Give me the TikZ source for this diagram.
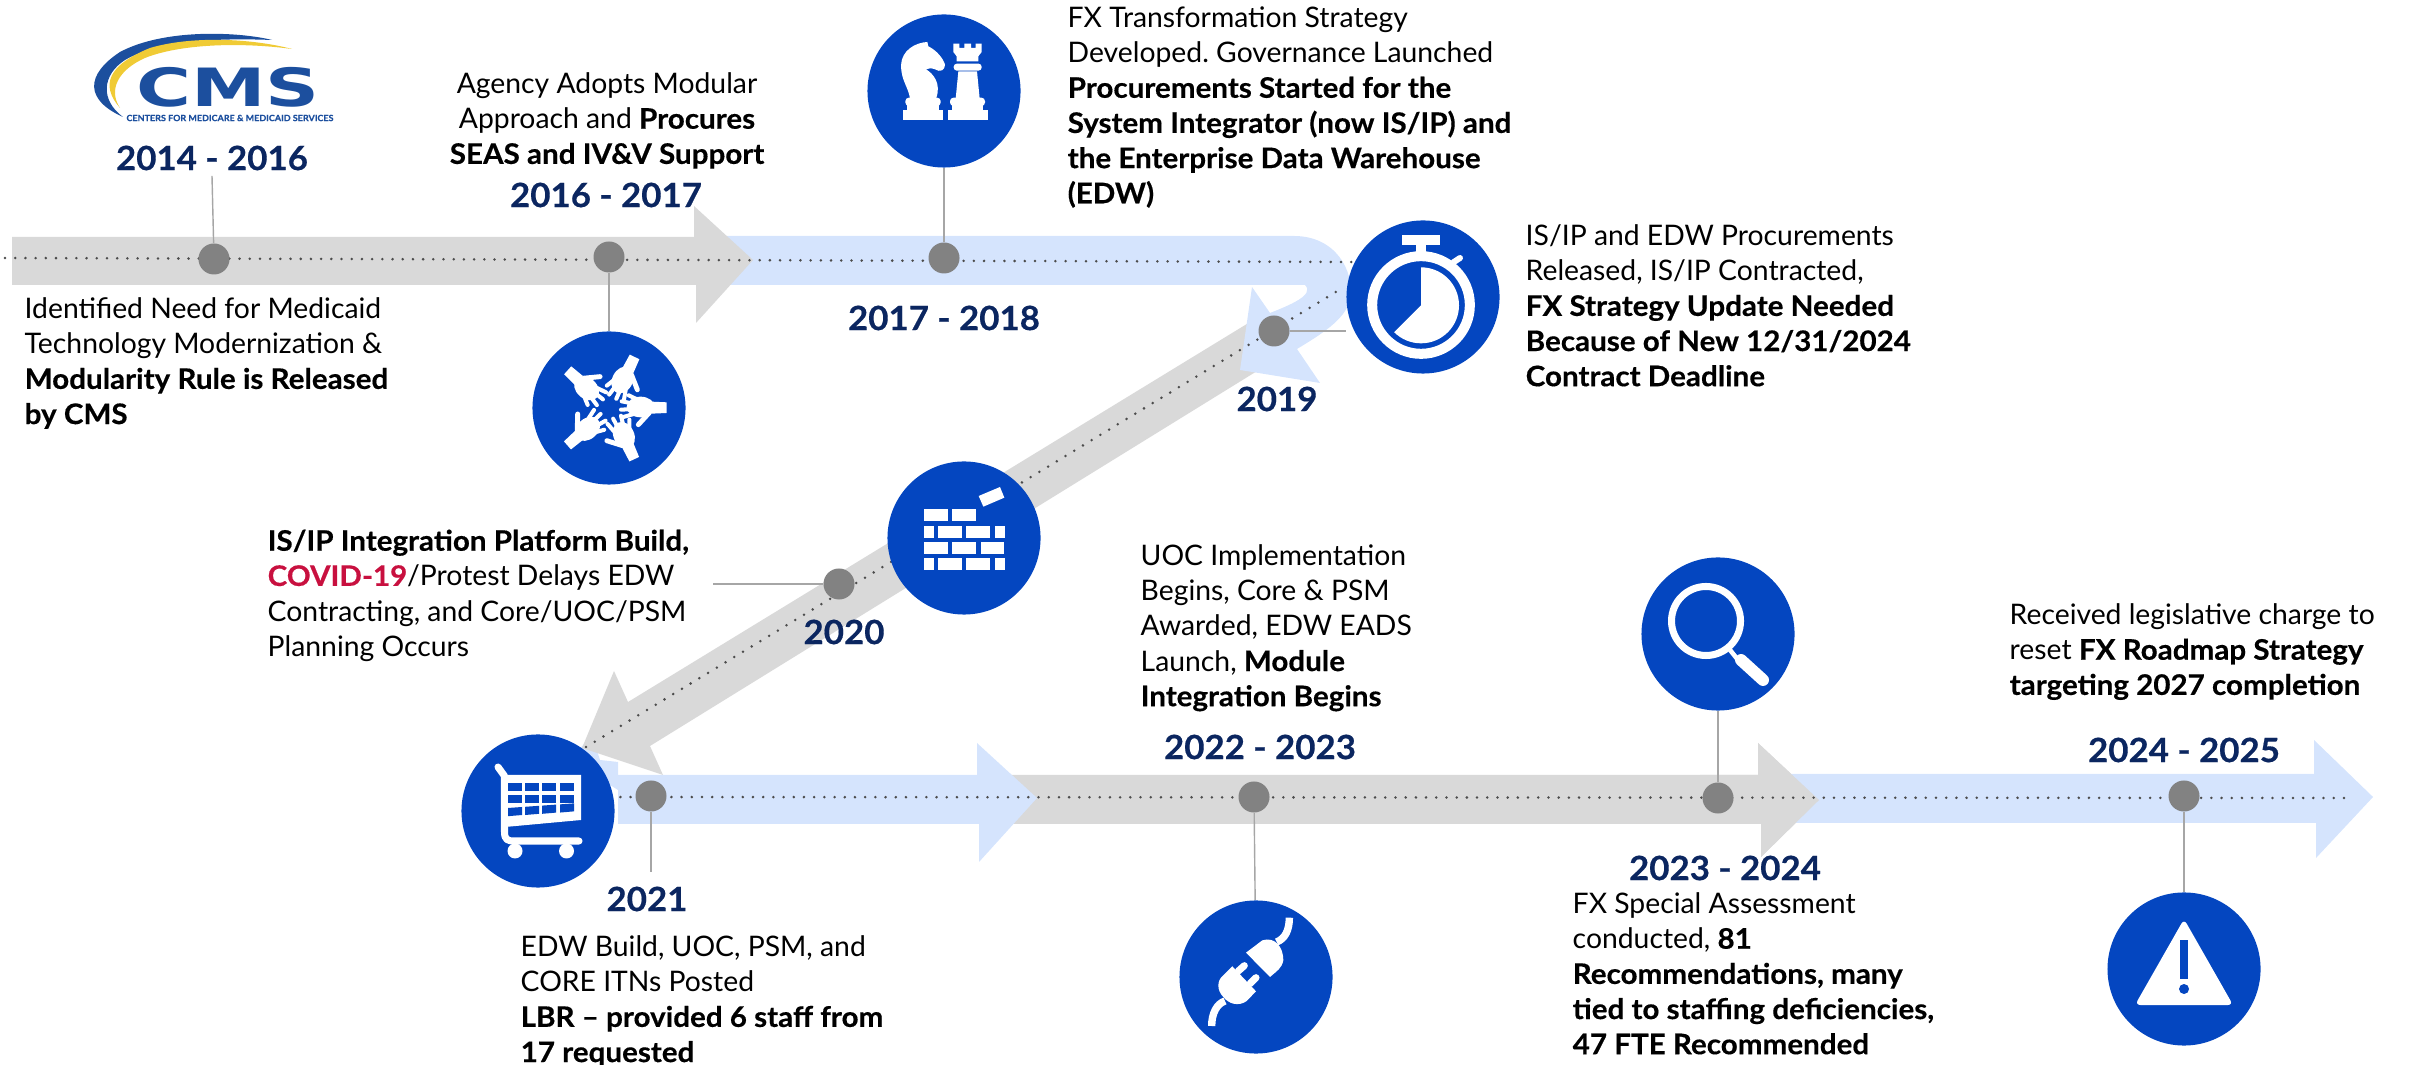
\documentclass[tikz,border=0pt]{standalone}
\usepackage{fontspec}
\setmainfont{Lato}[BoldFeatures={FakeStretch=1.045,FakeBold=0.4}]
\newfontfamily\logofont{DejaVu Sans}
\usetikzlibrary{backgrounds}
\definecolor{iconblue}{HTML}{0446C0}
\definecolor{bandblue}{HTML}{D5E4FD}
\definecolor{bandgray}{HTML}{D9D9D9}
\definecolor{yearnavy}{HTML}{0B2660}
\definecolor{covidred}{HTML}{C8103F}
\definecolor{logoblue}{HTML}{1C4F9E}
\definecolor{logoyellow}{HTML}{F0CB35}
\tikzset{
  bodytext/.style={anchor=north west,align=left,inner sep=0pt,font=\fontsize{8.05}{10}\selectfont},
  yearlabel/.style={inner sep=0pt,text=yearnavy,font=\fontsize{9.5}{12}\selectfont\bfseries},
  markdot/.style={circle,fill=gray!98,inner sep=0pt,minimum size=0.31cm},
  iconcircle/.style={circle,fill=iconblue,inner sep=0pt,minimum size=1.53cm},
  leader/.style={draw=black!35,line width=0.4pt},
  dotline/.style={draw=black!70,line width=0.8pt,line cap=round,dash pattern=on 0pt off 2.9pt},
  finger/.style={draw=white,line width=1.15pt,line cap=round},
}
\begin{document}
\begin{tikzpicture}[x=0.01cm,y=-0.01cm]
\useasboundingbox (0,0) rectangle (2410,1065);

\coordinate (rowstart) at (5,258);
\coordinate (rowstop) at (1353,262);
\coordinate (rowtwostart) at (600,797);
\coordinate (rowend) at (2347,798);
\coordinate (diagstart) at (586,747);
\coordinate (diagend) at (1344,287);
\coordinate (leadA) at (212,176);
\coordinate (leadF) at (713,584);
\coordinate (leadG) at (651,872);

\node[markdot] (dotA) at (214,259) {};
\node[markdot] (dotB) at (609,257) {};
\node[markdot] (dotC) at (944,258) {};
\node[markdot] (dotD) at (1274,331) {};
\node[markdot] (dotF) at (839,584) {};
\node[markdot] (dotG) at (651,796) {};
\node[markdot] (dotH) at (1254,797) {};
\node[markdot] (dotI) at (1718,798) {};
\node[markdot] (dotJ) at (2184,796) {};

\node[iconcircle] (hands) at (609,408) {};
\node[iconcircle] (chess) at (944,91) {};
\node[iconcircle] (watch) at (1423,297) {};
\node[iconcircle] (bricks) at (964,538) {};
\node[iconcircle] (cart) at (538,811) {};
\node[iconcircle] (plug) at (1256,977) {};
\node[iconcircle] (lens) at (1718,634) {};
\node[iconcircle] (alert) at (2184,969) {};

\begin{scope}[on background layer]
\fill[bandblue] (592,735) -- (600,760) -- (618,762) -- (618,790) -- (570,760) -- cycle;
\fill[bandgray] (1255,319) -- (628,702) -- (614,671) -- (582,748) -- (663,775) -- (650,746) -- (1262,368) -- cycle;
\fill[bandblue] (727,236) -- (1294,236) .. controls (1335,236) and (1355,270) .. (1350,300)
  .. controls (1345,320) and (1320,335) .. (1297,349) -- (1320,383) -- (1240,370) -- (1252,287) -- (1270,313)
  .. controls (1290,305) and (1315,295) .. (1305,285) -- (727,285) -- cycle;
\fill[bandgray] (12,237) -- (694,237) -- (694,206) -- (753,260) -- (696,323) -- (696,285) -- (12,285) -- cycle;
\fill[bandgray] (1000,775) -- (1758,775) -- (1758,743) -- (1819,800) -- (1761,857) -- (1761,824) -- (1000,824) -- cycle;
\fill[bandblue] (618,775) -- (977,775) -- (977,743) -- (1037,798) -- (979,862) -- (979,824) -- (618,824) -- cycle;
\fill[bandblue] (1790,774) -- (2314,774) -- (2314,740) -- (2373,797) -- (2316,858) -- (2316,823) -- (1790,823) -- cycle;
\fill[bandgray] (1758,775) -- (1758,743) -- (1819,800) -- (1761,857) -- (1761,824) -- (1700,824) -- (1700,775) -- cycle;

\draw[dotline] (rowstart) -- (rowstop);
\draw[dotline] (diagstart) -- (diagend);
\draw[dotline] (rowtwostart) -- (rowend);

\draw[leader] (dotA) -- (leadA);
\draw[leader] (dotB) -- (hands);
\draw[leader] (dotC) -- (chess);
\draw[leader] (dotD) -- (dotD -| watch.west);
\draw[leader] (dotF) -- (leadF);
\draw[leader] (dotG) -- (leadG);
\draw[leader] (dotH) -- (plug);
\draw[leader] (dotI) -- (lens);
\draw[leader] (dotJ) -- (alert);
\end{scope}

% logo
\fill[logoblue] (123,117) .. controls (85,100) and (85,75) .. (120,52) .. controls (165,28) and (240,32) .. (272,40)
  .. controls (220,38) and (160,40) .. (125,60) .. controls (102,75) and (100,100) .. (123,117) -- cycle;
\fill[logoyellow] (120,108) .. controls (100,85) and (108,65) .. (150,48) .. controls (190,36) and (250,38) .. (292,49)
  .. controls (240,42) and (180,44) .. (145,58) .. controls (118,70) and (108,90) .. (120,108) -- cycle;
\node[inner sep=0pt,text=logoblue,xscale=1.42,font=\fontsize{15}{15}\logofont\bfseries] (cmsname) at (228,87) {CMS};
\node[inner sep=0pt,text=logoblue,font=\fontsize{2.45}{3}\selectfont\bfseries] (cmsfull) at (230,118) {CENTERS FOR MEDICARE \& MEDICAID SERVICES};

% hands
\foreach \a in {0,64,138,221,295} {
\begin{scope}[shift={(610,408)},scale=1/3,rotate=\a]
\fill[white] (170,-17) -- (170,15) -- (125,17) -- (125,-19) -- cycle;
\fill[white] (92,-3) ellipse (42 and 31);
\draw[finger] (85,-24) -- (56,-38);
\draw[finger] (75,-12) -- (35,-20);
\draw[finger] (75,3) -- (33,5);
\draw[finger] (78,16) -- (40,27);
\draw[finger,line width=1.4pt] (118,14) -- (85,50);
\end{scope}
}

% chess
\begin{scope}[shift={(865,12)},scale=1/3]
\fill[white] (113,295) rectangle (233,324);
\fill[white] (125,278) rectangle (222,295);
\fill[white,rounded corners=1pt] (121,257) rectangle (227,282);
\fill[white] (135,260) .. controls (130,225) and (108,205) .. (108,160) .. controls (110,115) and (150,92) .. (187,90)
  -- (190,103) .. controls (215,115) and (235,140) .. (240,158) .. controls (240,175) and (225,182) .. (210,172)
  .. controls (200,168) and (190,168) .. (183,172) .. controls (205,185) and (230,215) .. (213,260) -- cycle;
\fill[white] (248,295) rectangle (368,324);
\fill[white] (262,278) rectangle (353,295);
\fill[white,rounded corners=1pt] (255,257) rectangle (360,282);
\fill[white] (280,178) -- (336,178) -- (344,260) -- (272,260) -- cycle;
\fill[white,rounded corners=0.9pt] (266,155) rectangle (350,176);
\fill[white] (265,95) -- (283,95) -- (283,108) -- (298,108) -- (298,95) -- (318,95) -- (318,108) -- (332,108)
  -- (332,95) -- (350,95) -- (350,120) -- (340,133) -- (340,148) -- (275,148) -- (275,133) -- (265,120) -- cycle;
\end{scope}

% stopwatch
\begin{scope}[shift={(1345,218)},scale=1/3]
\draw[white,line width=2.85pt] (228,261) circle (146.5);
\fill[white] (171,52) rectangle (285,80);
\fill[white] (214,80) rectangle (242,105);
\draw[white,line width=1.7pt,line cap=round] (325,133) -- (345,120);
\fill[white] (228,262) -- (228,148) arc[start angle=-90,end angle=135,radius=114] -- cycle;
\end{scope}

% bricks
\begin{scope}[shift={(885,460)},scale=1/3]
\foreach \xa/\xb/\ya/\yb in {117/189/147/183,202/273/147/183,
  117/147/197/234,159/231/197/234,243/315/197/234,330/360/197/234,
  117/189/246/282,202/273/246/282,287/358/246/282,
  117/147/294/330,159/231/294/330,243/315/294/330,330/360/294/330} {
  \fill[white] (\xa,\ya) rectangle (\xb,\yb);
}
\fill[white] (281,108) -- (345,81) -- (358,113) -- (295,140) -- cycle;
\end{scope}

% cart
\draw[white,line width=2pt,line cap=round,line join=round] (498,767) -- (504.5,776) -- (504.5,832)
  .. controls (504.5,840) and (508,841) .. (514,841) -- (579,841);
\fill[white] (505,775) -- (581,775) -- (581,820) -- (505,827) -- cycle;
\foreach \x in {508,525,542,560} {
  \fill[iconblue] (\x,783) rectangle ++(14,8);
  \fill[iconblue] (\x,795) rectangle ++(14,8.5);
  \fill[iconblue] (\x,{808-(\x-508)*0.07}) -- ++(14,-1) -- ++(0,8) -- ++(-14,1.2) -- cycle;
}
\fill[white] (515,851) circle (7.5);
\fill[white] (566.5,851) circle (7.5);

% plug
\begin{scope}[shift={(1175,897)},scale=1/3]
\fill[white] (213,167) -- (262,130) .. controls (300,118) and (325,150) .. (325,190) .. controls (320,215) and (305,222) .. (285,240) -- cycle;
\draw[white,line width=2.1pt] (305,135) .. controls (330,125) and (343,100) .. (343,62);
\fill[white] (172,208) -- (243,283) -- (215,312) .. controls (190,330) and (160,320) .. (145,300)
  .. controls (125,280) and (125,250) .. (145,235) -- cycle;
\draw[white,line width=2pt,line cap=round] (190,222) -- (208,206);
\draw[white,line width=2pt,line cap=round] (225,260) -- (243,242);
\draw[white,line width=2.1pt] (150,312) .. controls (125,320) and (110,350) .. (110,387);
\end{scope}

% magnifier
\draw[white,line width=2pt] (1706,621) circle (34.5);
\draw[white,line width=1.3pt] (1730,650) -- (1738,660);
\draw[white,line width=3.4pt,line cap=round] (1741,660) -- (1763,680);

% alert
\fill[white,rounded corners=1.5pt] (2184,919) -- (2233,1005) -- (2135,1005) -- cycle;
\fill[iconblue] (2180,940) rectangle (2188,979);
\fill[iconblue] (2184,989) circle (5);

\node[yearlabel] (yearA) at (212,158) {2014 - 2016};
\node[yearlabel] (yearB) at (606,195) {2016 - 2017};
\node[yearlabel] (yearC) at (944,318) {2017 - 2018};
\node[yearlabel] (yearD) at (1277,399) {2019};
\node[yearlabel] (yearF) at (844,632) {2020};
\node[yearlabel] (yearG) at (647,899) {2021};
\node[yearlabel] (yearH) at (1260,747) {2022 - 2023};
\node[yearlabel] (yearI) at (1725,868) {2023 - 2024};
\node[yearlabel] (yearJ) at (2184,750) {2024 - 2025};

\node[bodytext] (textA) at (24,297) {Identified Need for Medicaid\\Technology Modernization \&\\\textbf{Modularity Rule is Released}\\\textbf{by CMS}};
\node[bodytext,align=center,anchor=north] (textB) at (607,72) {Agency Adopts Modular\\Approach and \textbf{Procures}\\\textbf{SEAS and IV\&V Support}};
\node[bodytext] (textC) at (1067,6) {FX Transformation Strategy\\Developed.\ Governance Launched\\\textbf{Procurements Started for the}\\\textbf{System Integrator (now IS/IP) and}\\\textbf{the Enterprise Data Warehouse}\\\textbf{(EDW)}};
\node[bodytext] (textD) at (1525,224) {IS/IP and EDW Procurements\\Released, IS/IP Contracted,\\\textbf{FX Strategy Update Needed}\\\textbf{Because of New 12/31/2024}\\\textbf{Contract Deadline}};
\node[bodytext] (textF) at (267,529) {\textbf{IS/IP Integration Platform Build,}\\\textcolor{covidred}{\textbf{COVID-19}}/Protest Delays EDW\\Contracting, and Core/UOC/PSM\\Planning Occurs};
\node[bodytext] (textG) at (520,935) {EDW Build, UOC, PSM, and\\CORE ITNs Posted\\\textbf{LBR – provided 6 staff from}\\\textbf{17 requested}};
\node[bodytext] (textH) at (1140,544) {UOC Implementation\\Begins, Core \& PSM\\Awarded, EDW EADS\\Launch, \textbf{Module}\\\textbf{Integration Begins}};
\node[bodytext] (textI) at (1572,892) {FX Special Assessment\\conducted, \textbf{81}\\\textbf{Recommendations, many}\\\textbf{tied to staffing deficiencies,}\\\textbf{47 FTE Recommended}};
\node[bodytext] (textJ) at (2009,603) {Received legislative charge to\\reset \textbf{FX Roadmap Strategy}\\\textbf{targeting 2027 completion}};
\end{tikzpicture}
\end{document}
